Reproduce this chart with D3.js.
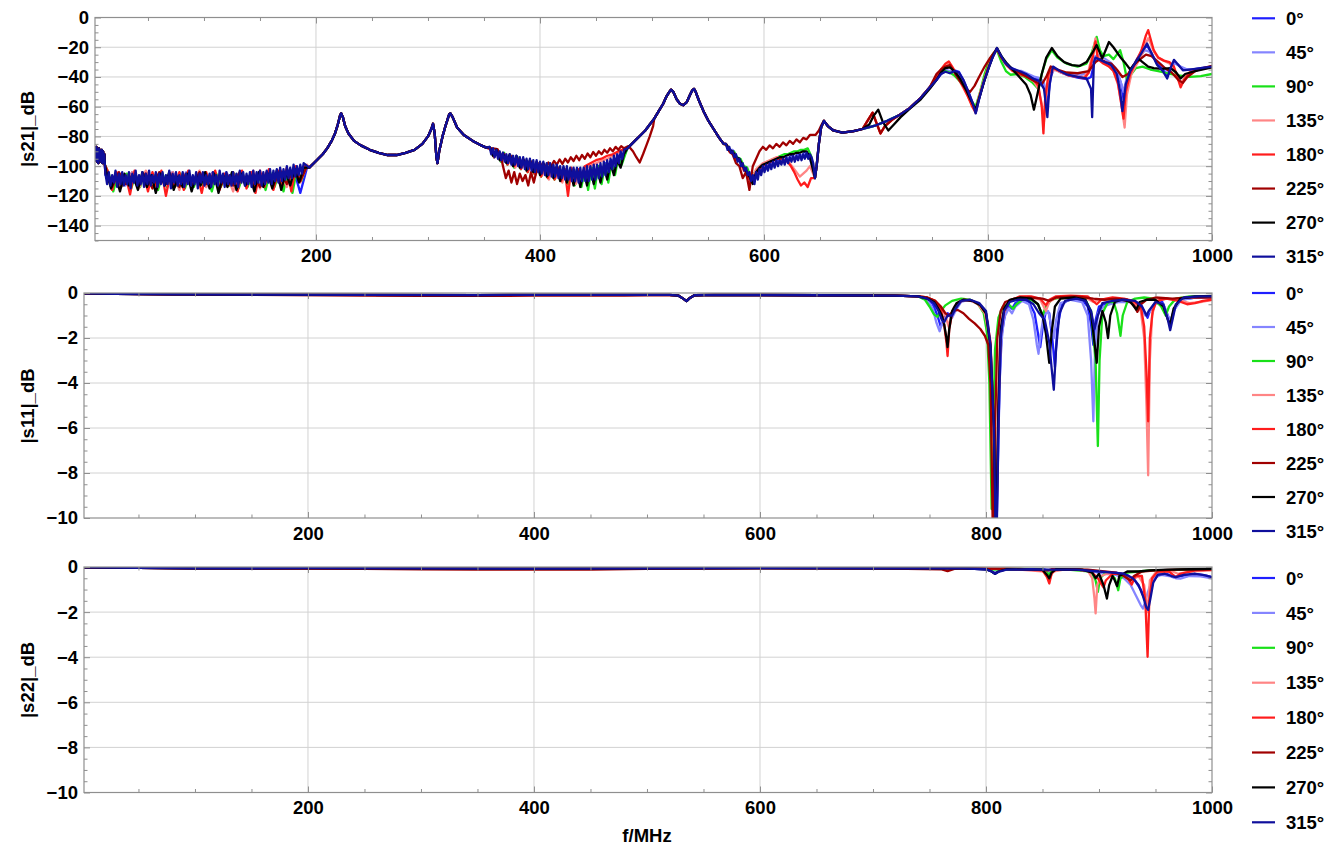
<!DOCTYPE html>
<html><head><meta charset="utf-8">
<script src="https://cdn.jsdelivr.net/npm/d3@7"></script>
<style>
body{margin:0;background:#fff}
svg text{font-family:"Liberation Sans",Arial,sans-serif;font-weight:bold;font-size:18.5px;fill:#000}
</style>
</head><body>
<svg id="c" width="1340" height="848"></svg>
<script>
// ---------------- labels / ticks ----------------
const angles = ["0°","45°","90°","135°","180°","225°","270°","315°"];
const xTicks = [200,400,600,800,1000];
const s21YTicks = [0,-20,-40,-60,-80,-100,-120,-140];
const sYTicks = [0,-2,-4,-6,-8,-10];
const yLabels = ["|s21|_dB","|s11|_dB","|s22|_dB"];
const xLabel = "f/MHz";

// ---------------- |s21| data (f in MHz, dB) ----------------
const s21Lead = [[2.7,-88],[3.3,-96],[3.9,-87],[4.5,-97],[5.1,-89],[5.7,-98],[6.3,-88],[6.9,-96],[7.5,-90],[8.1,-97],[8.7,-89],[9.3,-98],[9.9,-90],[10.5,-97],[11.1,-92],[11.5,-99]];
// noise floor, sampled sweeps
const s21Floor315 = [-105,-112,-104,-113,-106,-111,-103,-114,-105,-112,
  -104,-113,-106,-112,-104,-115,-105,-111,-103,-113,
  -106,-112,-104,-114,-105,-112,-103,-113,-106,-111,
  -104,-114,-105,-112,-104,-113,-106,-112,-103,-115,
  -105,-111,-104,-113,-106,-112,-104,-114,-105,-112,
  -103,-113,-106,-112,-104,-115,-105,-111,-104,-113,
  -106,-112,-105,-114,-104,-112,-106,-113,-103,-111,
  -105,-114,-104,-112,-106,-113,-104,-112,-105,-114,
  -103,-111,-104,-113,-105,-112,-104,-114,-103,-112,
  -104,-111,-103,-113,-104,-112,-103,-111,-102,-112,
  -103,-110,-102,-111,-101,-110,-102,-109,-100,-108,
  -101,-108,-99,-107,-100,-106,-99,-105,-98];
const s21Floor270 = [-104,-115,-106,-117,-105,-113,-107,-116,-104,-114,-106,-118,-105,-113,-104,-116,-107,-114,-105,-117,-106,-113,-104,-115,-105,-118,-106,-114,-104,-116,-105,-113,-106,-117,-104,-114,-105,-115,-103,-116,-104,-113,-102,-111,-101];
const s21Floor180 = [-103,-116,-104,-114,-106,-119,-103,-113,-105,-117,-104,-115,-103,-120,-105,-114,-104,-116,-103,-113,-106,-118,-104,-114,-103,-116,-105,-113,-104,-117,-103,-115,-104,-118,-103,-114,-102,-116,-103,-113,-101,-117,-100,-110,-99];
const s21Floor90 = [-105,-117,-106,-113,-105,-115,-106,-114,-105,-113,-106,-116,-105,-114,-106,-113,-105,-115,-106,-114,-105,-113,-106,-117,-105,-114,-106,-113,-105,-115,-106,-114,-105,-113,-106,-116,-104,-114,-105,-117,-103,-118,-102,-110,-100];
const s21Floor0 = [-106,-111,-105,-112,-104,-113,-106,-111,-105,-112,-104,-114,-105,-112,-106,-111,-104,-113,-105,-112,-104,-111,-106,-113,-105,-112,-103,-113,-102,-118,-101];
const s21Floor45 = [-104,-112,-106,-113,-105,-111,-104,-114,-106,-112,-105,-113,-104,-112,-106,-114,-105,-111,-104,-113,-106,-112,-105,-114,-104,-111,-105,-112,-103,-110,-100];
const s21Floor135 = [-103,-113,-105,-112,-104,-115,-103,-112,-105,-113,-104,-116,-105,-112,-103,-114,-104,-113,-105,-117,-104,-112,-103,-115,-104,-113,-102,-114,-101,-111,-99];
const s21Floor225 = [-105,-114,-104,-112,-106,-113,-105,-115,-104,-112,-106,-114,-105,-113,-104,-112,-106,-115,-105,-113,-104,-112,-105,-114,-104,-113,-103,-112,-102,-110,-100];
// resonances 194-352 MHz (shared)
const s21Rise = [[194,-101],[198,-98],[202,-95],[206,-92],[210,-88],[214,-83],[217,-78],[219.5,-72],[221.5,-66],[222.5,-64.5],[224,-67],[226,-73],[229,-78],[234,-83],[240,-86],[248,-89],[256,-91],[264,-92.5],[272,-92.5],[280,-91],[288,-89],[295,-85],[300,-80],[303,-75],[304.5,-71.5],[306,-78],[307.5,-94],[308.5,-98],[310,-90],[313,-80],[316,-72],[319,-65],[320,-64.5],[322,-67],[326,-74],[332,-79],[340,-83],[346,-85.5],[352,-87.5]];
// noisy valley 355-475 MHz
const s21Mid315 = [-87,-92,-88,-94,-89,-95,-90,-96,-91,-97,
  -92,-98,-92,-99,-93,-99,-93,-100,-94,-101,
  -94,-102,-95,-102,-95,-103,-96,-104,-96,-104,
  -97,-105,-97,-106,-98,-106,-98,-107,-99,-107,
  -99,-108,-100,-108,-100,-109,-100,-109,-101,-110,
  -101,-110,-101,-111,-101,-110,-101,-110,-100,-110,
  -100,-109,-99,-109,-99,-108,-98,-107,-97,-106,
  -96,-104,-95,-102,-93,-100,-92,-98,-90,-95,-89];
const s21Mid0 = [-88,-93,-90,-96,-92,-98,-93,-100,-94,-101,-96,-103,-97,-104,-98,-106,-99,-107,-100,-108,-101,-109,-102,-110,-102,-111,-103,-112,-102,-111,-101,-110,-100,-108,-98,-105,-96,-101,-93,-96];
const s21Mid45 = [-89,-92,-91,-95,-93,-97,-94,-99,-95,-100,-97,-102,-98,-103,-99,-105,-100,-106,-101,-107,-102,-108,-103,-109,-103,-110,-104,-110,-103,-109,-102,-108,-101,-107,-99,-104,-97,-100,-94,-95];
const s21Mid90 = [-88,-94,-90,-97,-91,-99,-93,-101,-94,-102,-96,-104,-97,-105,-98,-107,-99,-108,-100,-109,-101,-110,-102,-112,-102,-113,-103,-114,-102,-116,-101,-115,-100,-112,-99,-111,-97,-106,-94,-99];
const s21Mid270 = [-87,-93,-89,-96,-91,-98,-92,-100,-93,-101,-95,-103,-96,-104,-97,-106,-98,-107,-99,-108,-100,-110,-101,-111,-102,-113,-102,-114,-103,-113,-102,-112,-101,-111,-100,-109,-98,-106,-96,-101,-92];
const s21Mid180 = [-88,-94,-90,-96,-92,-99,-93,-100,-95,-102,-96,-104,-97,-105,-98,-107,-99,-108,-100,-109,-101,-110,-102,-120,-101,-110,-102,-108];
const s21Trace180 = [[440,-100],[445,-98],[450,-96],[455,-95],[460,-93],[465,-92],[470,-90],[475,-88.5]];
const s21Mid135 = [-89,-93,-91,-97,-92,-98,-94,-101,-95,-101,-97,-103,-98,-106,-99,-106,-100,-109,-101,-108,-102,-111,-102,-109,-103,-112,-102,-107];
const s21Trace135 = [[441,-101],[450,-98],[460,-95],[470,-91],[475,-89]];
const s21Head225 = [[355,-88],[358,-88],[362,-88.5],[365,-93]];
const s21Mid225 = [-100,-108,-103,-111,-104,-112,-105,-110,-106,-113,-104,-111,-103];
const s21Trace225 = [[400,-101],[402.5,-98],[405,-101],[407.5,-97.5],[410,-100],[412.5,-96.5],[415,-99],[417.5,-95.5],[420,-98.5],[422.5,-95],[425,-97.5],[427.5,-94],[430,-96.5],[432.5,-93],[435,-96],[437.5,-92.5],[440,-95],[442.5,-91.5],[445,-94],[447.5,-90.5],[450,-93],[452.5,-90],[455,-92],[457.5,-89],[460,-91],[462.5,-88],[465,-90],[467.5,-87],[470,-89],[472.5,-86.5],[475,-88],[479,-86.5],[483,-90],[486,-94],[489,-97.5],[492,-92],[495,-86],[498,-80],[501,-73]];
const s21Climb = [[478,-88],[482,-85],[486,-82],[490,-79],[494,-76],[498,-72]];
// double resonance 502-564 MHz (shared)
const s21Peaks = [[502,-68],[506,-63],[510,-58],[513,-53],[515.5,-50],[517,-48.5],[519,-50],[522,-55],[525,-58],[528,-59],[531,-57],[534,-52],[536,-49],[537.5,-48],[539,-50],[542,-56],[546,-63],[550,-69],[555,-75],[560,-81],[564,-85]];
// noisy valley 566-644 MHz
const s21Low315 = [-85,-89,-87,-91,-90,-94,-92,-97,-95,-100,
  -98,-103,-101,-106,-104,-110,-106,-112,-104,-109,
  -102,-106,-100,-104,-99,-103,-98,-102,-97,-101,
  -96,-100,-96,-99,-95,-99,-94,-98,-94,-97,
  -93,-97,-93,-96,-92,-96,-92,-95,-91,-95,
  -92,-94,-98];
const s21Low0 = [-86,-90,-90,-95,-96,-101,-103,-110,-108,-104,-104,-100,-101,-98,-99,-96,-98,-95,-96,-93,-95,-92,-94,-91,-94,-96];
const s21Low45 = [-85,-89,-89,-94,-95,-100,-102,-108,-111,-105,-103,-101,-100,-99,-98,-97,-97,-95,-95,-94,-94,-93,-93,-92,-92,-95];
const s21Low90 = [-86,-90,-90,-94,-95,-100,-101,-107,-105,-102,-100,-98,-97,-96,-95,-94,-93,-92,-92,-91,-90,-90,-89,-89,-88,-93];
const s21Low270 = [-85,-89,-90,-94,-95,-100,-103,-107,-112,-104,-101,-99,-98,-97,-96,-95,-94,-94,-93,-92,-92,-91,-91,-90,-90,-94];
const s21Low180 = [-86,-91,-91,-96,-97,-103,-104,-111,-109,-103,-101,-99,-98,-97,-96,-95,-95,-96,-97,-100,-104,-109,-113,-111,-114,-108];
const s21Low135 = [-85,-90,-90,-95,-96,-101,-103,-109,-107,-102,-100,-98,-97,-96,-95,-94,-94,-95,-96,-98,-101,-104,-107,-105,-103,-100];
const s21Low225 = [-85,-90,-92,-98,-100,-108,-104,-116,-100,-95,-90,-87,-89,-86,-88,-85,-87,-84,-86,-83,-85,-82,-84,-81,-82,-79];
const s21Jump = [[645.5,-108],[647,-100],[649,-85],[651,-74]];
const s21Jump225 = [[646,-79],[649,-76],[651.5,-72]];
const s21TailA = [[653.5,-69.5],[657,-73],[662,-76],[670,-77.5],[680,-76.5],[688,-75]];
const s21TailB = [[695,-73.5],[700,-72.5],[710,-69.5],[720,-66],[730,-61],[740,-54],[748,-47]];
const s21Tail270 = [[694,-72],[698,-66],[702,-62],[706,-70],[711,-76],[716,-72],[722,-67],[730,-61.5],[740,-55],[748,-48]];
const s21TailRed = [[692,-70],[697,-64],[701,-72],[704,-78],[708,-73],[714,-69],[722,-65],[730,-61],[740,-54],[748,-47]];
// high band 754-1000 MHz
const s21Hf0 = [[754,-42],[758,-38],[762,-36],[766,-37],[770,-35.5],[774,-36.5],[778,-42],[782,-49],[786,-57],[789,-64],[792,-55],[796,-44],[800,-35],[804,-27],[808,-21],[811,-25],[815,-30],[820,-33.5],[824,-35],[828,-36.5],[834,-38.5],[840,-40.5],[846,-42],[850,-46],[853,-58],[856,-40],[859,-34],[865,-37],[872,-39],[880,-40.5],[888,-41.5],[892,-40],[895,-30],[899,-28],[904,-30],[910,-32.5],[915,-36],[919,-45],[921,-55],[924,-42],[928,-35],[933,-28],[938,-22],[942,-19],[946,-24],[951,-31],[956,-35],[960,-39],[963,-35],[966,-30],[970,-32],[975,-35],[982,-35],[990,-34],[1000,-33]];
const s21Hf45 = [[754,-41],[758,-37],[762,-35],[766,-36],[770,-36],[774,-38],[778,-43],[782,-50],[786,-57],[789,-63],[792,-54],[796,-43],[800,-34],[804,-26.5],[808,-21],[811,-25],[815,-31],[820,-34.5],[825,-36],[830,-36],[836,-38],[842,-40],[847,-41],[850,-44],[852,-52],[855,-40],[859,-35],[866,-37],[874,-38],[882,-39],[890,-37],[894,-27],[898,-25],[903,-27],[909,-30],[914,-34],[918,-42],[921,-50],[924,-40],[929,-33],[935,-27],[940,-22],[944,-23],[949,-28],[955,-32],[960,-36],[964,-33],[967,-31],[972,-33],[978,-35],[988,-34.5],[1000,-33.5]];
const s21Hf90 = [[754,-40],[758,-37],[762,-36],[766,-37],[770,-39],[775,-43],[780,-49],[785,-56],[789,-60],[793,-50],[797,-38],[801,-29],[805,-24],[808,-22],[812,-30],[816,-36],[820,-38.5],[826,-38],[833,-40],[840,-44],[845,-48],[848,-38],[852,-28],[857,-22],[862,-27],[870,-31],[880,-33],[888,-31],[893,-23],[897,-13],[900,-22],[903,-26],[908,-25],[912,-28],[915,-25],[918,-22],[921,-30],[925,-45],[928,-38],[932,-34],[938,-33],[945,-35],[952,-36],[960,-37.5],[970,-39],[980,-40],[990,-39.5],[1000,-38]];
const s21Hf135 = [[754,-40],[758,-35.5],[762,-32],[765,-31],[768,-34],[772,-39],[777,-46],[782,-53],[786,-59],[789,-62],[792,-53],[796,-43],[800,-34],[804,-26],[808,-21],[812,-27],[817,-32.5],[822,-36],[828,-38],[835,-40],[841,-43],[845,-48],[848,-58],[850,-70],[852,-52],[855,-39],[859,-35],[865,-37],[873,-39],[880,-40],[886,-40],[890,-35],[894,-22],[896,-14],[898,-26],[903,-30],[908,-33],[912,-36],[916,-45],[919,-58],[922,-74],[924,-52],[928,-38],[933,-31],[938,-24],[941,-17],[943,-14],[945,-17],[948,-23],[952,-27],[957,-29],[962,-31],[966,-34],[969,-39],[972,-45],[975,-41],[980,-37],[988,-35],[1000,-33.5]];
const s21Hf180 = [[754,-40],[758,-35],[762,-31],[765,-29.5],[768,-33],[772,-38],[777,-45],[782,-53],[786,-60],[789,-64],[792,-54],[796,-44],[800,-34],[804,-26],[808,-21],[812,-27],[817,-32],[822,-36],[828,-38],[835,-40],[841,-42],[845,-46],[848,-60],[849.5,-78],[851,-55],[854,-38],[858,-34],[864,-36],[872,-39],[880,-40],[886,-41],[890,-37],[894,-25],[896,-16],[898,-28],[903,-31],[908,-33],[912,-36],[916,-44],[919,-58],[921,-68],[923,-50],[927,-38],[932,-30],[937,-22],[941,-12],[943,-8.5],[945,-14],[948,-22],[952,-27],[957,-29],[962,-30],[966,-33],[969,-40],[972,-47],[975,-42],[980,-37],[988,-35],[1000,-33]];
const s21Hf225 = [[754,-38],[758,-35],[762,-33],[766,-32],[770,-37],[775,-43],[780,-48],[784,-50],[788,-46],[792,-40],[797,-33],[802,-27],[808,-21],[812,-27],[817,-32],[822,-35],[828,-37],[835,-40],[842,-43],[848,-45],[852,-40],[856,-33],[862,-35],[870,-37],[880,-37.5],[890,-36],[896,-30],[900,-28],[905,-30],[910,-31],[915,-35],[920,-40],[925,-38],[930,-32],[936,-28],[941,-25],[946,-26],[952,-30],[958,-34],[964,-37],[970,-42],[974,-44],[978,-40],[985,-36],[992,-34],[1000,-32.5]];
const s21Hf270 = [[754,-42],[758,-37],[762,-34],[766,-33.5],[770,-36],[775,-41],[780,-48],[785,-56],[789,-62],[793,-52],[797,-42],[801,-33],[805,-25],[808,-20.5],[812,-26],[817,-31],[822,-35],[828,-40],[834,-45],[838,-52],[841,-62],[844,-52],[848,-38],[852,-27],[857,-20.5],[862,-26],[868,-30],[875,-32],[882,-32.5],[888,-30],[893,-24],[897,-18.5],[900,-24],[902,-27.5],[905,-22],[908,-16.5],[912,-20],[918,-26.5],[923,-31],[927,-35],[931,-31],[934,-27.5],[938,-30],[943,-33],[948,-34],[955,-34.5],[963,-34],[968,-37],[972,-41],[976,-38],[985,-36],[1000,-33.5]];
const s21Hf315 = [[754,-42],[758,-38],[762,-36.5],[766,-37.5],[770,-36],[774,-37],[778,-42],[782,-49],[786,-57],[789,-64.5],[792,-55],[796,-44],[800,-35],[804,-27],[808,-20.5],[811,-25],[815,-30],[820,-34],[824,-35],[828,-36],[834,-38],[840,-41],[846,-43],[850,-48],[853,-67],[855,-45],[858,-33],[864,-36],[871,-38.5],[880,-40],[888,-41],[892,-48],[893,-67],[894.5,-30],[896,-27],[903,-29.5],[910,-32],[915,-38],[918,-50],[920,-63],[923,-45],[927,-36],[932,-30],[937,-24],[942,-17.5],[946,-24],[951,-32],[956,-36],[960,-41],[963,-34],[966,-28.5],[970,-32],[974,-35.5],[980,-35],[990,-34],[1000,-33]];

// ---------------- |s11| data ----------------
const s11Low = [[1.8,-0.02],[30,-0.04],[80,-0.06],[150,-0.07],[250,-0.08],[350,-0.09],[450,-0.08],[520,-0.08],[528,-0.12],[532,-0.25],[535,-0.36],[538,-0.22],[542,-0.1],[560,-0.08],[650,-0.1],[720,-0.12],[740,-0.15]];
const s11Low225 = [[1.8,-0.02],[80,-0.06],[250,-0.12],[300,-0.13],[400,-0.12],[480,-0.11],[520,-0.09],[528,-0.12],[532,-0.25],[535,-0.35],[538,-0.22],[542,-0.1],[560,-0.08],[650,-0.1],[720,-0.12],[740,-0.15]];
const s11Hf0 = [[748,-0.25],[753,-0.5],[757,-1.0],[760,-1.5],[763,-1.1],[766,-0.9],[769,-1.0],[772,-0.75],[776,-0.4],[782,-0.3],[790,-0.4],[796,-0.6],[800,-1.0],[803,-2.5],[805,-5],[807,-9],[808.5,-12],[810,-9],[812,-4],[814,-1.8],[817,-0.9],[820,-0.55],[823,-0.7],[826,-0.45],[832,-0.3],[838,-0.4],[843,-0.9],[846,-1.8],[848,-2.4],[850,-1.6],[853,-0.8],[856,-0.9],[859,-2.2],[861,-3.3],[863,-1.6],[867,-0.5],[875,-0.25],[885,-0.3],[890,-0.6],[893,-1.4],[895,-2.3],[897,-1.2],[900,-0.6],[905,-0.5],[912,-0.4],[920,-0.3],[930,-0.35],[937,-0.5],[941,-0.9],[943,-1.1],[945,-0.8],[950,-0.4],[956,-0.4],[960,-0.9],[963,-1.3],[966,-0.8],[972,-0.3],[985,-0.2],[1000,-0.17]];
const s11Hf45 = [[748,-0.3],[753,-0.7],[756,-1.3],[759,-1.7],[762,-1.2],[766,-1.0],[770,-1.1],[773,-0.8],[778,-0.4],[785,-0.3],[792,-0.45],[798,-0.7],[802,-1.4],[805,-4],[807,-8],[809,-12],[811,-6],[813,-2.5],[816,-1.1],[820,-0.7],[823,-0.9],[826,-0.6],[832,-0.35],[838,-0.5],[842,-1.2],[845,-2.3],[846.5,-2.7],[848,-2.0],[851,-1.0],[855,-0.8],[858,-1.5],[860,-2.0],[862,-1.2],[866,-0.45],[875,-0.3],[885,-0.4],[890,-1.0],[893,-3.0],[895,-5.7],[896.5,-2.5],[899,-0.9],[904,-0.6],[910,-0.5],[918,-0.4],[928,-0.4],[936,-0.6],[941,-1.0],[945,-0.8],[950,-0.45],[957,-0.5],[961,-1.0],[964,-1.3],[967,-0.7],[973,-0.3],[985,-0.2],[1000,-0.18]];
const s11Hf90 = [[746,-0.3],[750,-0.6],[754,-0.95],[757,-1.06],[760,-0.8],[764,-0.55],[770,-0.35],[778,-0.25],[786,-0.3],[793,-0.5],[798,-0.9],[801,-1.8],[803,-4],[805,-9.6],[806.5,-6],[808,-2.5],[811,-1.1],[815,-0.6],[820,-0.5],[824,-0.7],[827,-0.5],[832,-0.3],[840,-0.3],[846,-0.5],[850,-1.0],[853,-0.6],[858,-0.3],[866,-0.2],[878,-0.2],[888,-0.3],[893,-0.8],[897,-3.0],[899,-6.8],[900.5,-3],[903,-0.9],[908,-0.4],[913,-0.4],[916,-0.9],[919,-1.9],[921,-1.0],[925,-0.4],[932,-0.25],[940,-0.2],[948,-0.25],[955,-0.6],[959,-1.0],[962,-0.6],[968,-0.25],[980,-0.15],[1000,-0.15]];
const s11Hf135 = [[748,-0.2],[755,-0.35],[760,-0.6],[764,-1.0],[767,-1.5],[769,-1.0],[772,-0.6],[777,-0.35],[785,-0.3],[793,-0.5],[799,-0.9],[803,-2],[806,-5],[808,-10.5],[810,-7],[812,-2.5],[815,-1.0],[820,-0.4],[828,-0.2],[838,-0.15],[848,-0.3],[853,-0.8],[856,-0.4],[862,-0.2],[875,-0.15],[888,-0.2],[895,-0.4],[900,-0.3],[910,-0.25],[920,-0.3],[930,-0.4],[937,-0.8],[940,-2],[942,-5],[943.5,-8.1],[945,-3],[947,-1.0],[950,-0.4],[958,-0.25],[970,-0.3],[980,-0.45],[990,-0.4],[1000,-0.3]];
const s11Hf180 = [[748,-0.2],[755,-0.35],[760,-0.7],[763,-1.4],[765,-2.2],[766,-2.8],[767.5,-1.6],[770,-0.9],[774,-0.5],[780,-0.3],[788,-0.35],[795,-0.55],[800,-0.9],[804,-2.2],[807,-6],[809,-11],[811,-5],[813,-1.8],[816,-0.8],[821,-0.35],[830,-0.15],[840,-0.15],[848,-0.25],[853,-0.55],[856,-0.3],[862,-0.15],[875,-0.12],[890,-0.15],[898,-0.5],[902,-0.3],[912,-0.2],[922,-0.25],[930,-0.35],[937,-0.6],[940,-1.5],[942,-3.5],[943.5,-5.7],[945,-2],[947.5,-0.8],[951,-0.35],[960,-0.25],[970,-0.35],[978,-0.5],[985,-0.45],[992,-0.35],[1000,-0.3]];
const s11Hf225 = [[748,-0.2],[755,-0.35],[760,-0.6],[764,-0.9],[767,-1.0],[771,-0.8],[775,-0.75],[780,-0.9],[785,-1.15],[790,-1.35],[795,-1.6],[799,-1.9],[802,-2.3],[804,-4],[806,-10.5],[808,-6],[810,-2],[813,-0.8],[817,-0.4],[825,-0.25],[838,-0.2],[850,-0.25],[856,-0.35],[862,-0.2],[880,-0.15],[895,-0.25],[905,-0.3],[915,-0.25],[925,-0.3],[931,-0.55],[934,-0.84],[937,-0.5],[942,-0.3],[950,-0.2],[965,-0.25],[980,-0.2],[1000,-0.2]];
const s11Hf270 = [[748,-0.25],[754,-0.4],[758,-0.7],[761,-1.0],[763,-1.4],[765,-2.0],[766,-2.4],[767.5,-1.6],[770,-0.8],[774,-0.45],[780,-0.3],[788,-0.35],[795,-0.55],[800,-0.9],[804,-2.4],[807,-6],[809,-11],[811,-5],[813,-1.6],[816,-0.7],[821,-0.3],[830,-0.2],[840,-0.25],[846,-0.5],[850,-1.0],[853,-1.8],[856,-3.1],[858,-1.8],[861,-0.6],[866,-0.25],[878,-0.2],[888,-0.3],[893,-0.9],[896,-2.2],[898,-3.1],[900,-1.5],[903,-0.8],[906,-1.3],[908,-2.0],[910,-1.0],[914,-0.4],[920,-0.3],[928,-0.4],[933,-0.74],[936,-0.4],[942,-0.3],[950,-0.3],[957,-0.6],[961,-1.2],[963,-1.4],[966,-0.7],[972,-0.25],[985,-0.15],[1000,-0.13]];
const s11Hf315 = [[748,-0.25],[754,-0.45],[758,-0.8],[761,-1.2],[763,-1.3],[766,-1.0],[770,-1.0],[773,-0.7],[778,-0.35],[786,-0.3],[794,-0.45],[800,-0.8],[804,-2.3],[807,-6],[809,-12],[811,-6],[813,-2],[816,-0.8],[821,-0.4],[828,-0.3],[836,-0.3],[842,-0.5],[847,-0.9],[852,-1.2],[856,-2.2],[858,-3.3],[860,-4.3],[862,-2.5],[865,-0.9],[870,-0.35],[880,-0.25],[888,-0.35],[893,-0.8],[896,-1.6],[899,-1.0],[903,-0.45],[912,-0.35],[922,-0.3],[932,-0.35],[938,-0.6],[942,-1.0],[944,-0.8],[950,-0.4],[957,-0.5],[961,-1.2],[963,-1.65],[965,-1.2],[968,-0.5],[975,-0.2],[988,-0.15],[1000,-0.15]];

// ---------------- |s22| data ----------------
const s22Low = [[1.8,-0.02],[50,-0.04],[100,-0.06],[200,-0.05],[300,-0.06],[400,-0.07],[500,-0.06],[600,-0.05],[700,-0.06],[780,-0.06]];
const s22Low225 = [[1.8,-0.02],[100,-0.06],[250,-0.08],[300,-0.1],[350,-0.12],[400,-0.12],[450,-0.11],[500,-0.08],[600,-0.05],[700,-0.06],[760,-0.1],[766,-0.18],[772,-0.08],[780,-0.06]];
const s22Hf0 = [[800,-0.1],[805,-0.2],[808,-0.3],[811,-0.2],[818,-0.1],[840,-0.1],[852,-0.12],[856,-0.2],[860,-0.1],[880,-0.12],[895,-0.2],[905,-0.25],[915,-0.25],[925,-0.35],[932,-0.6],[937,-1.0],[941,-1.5],[943,-1.9],[945,-1.3],[948,-0.6],[953,-0.3],[960,-0.3],[966,-0.45],[972,-0.4],[985,-0.3],[995,-0.38],[1000,-0.45]];
const s22Hf45 = [[800,-0.1],[805,-0.18],[808,-0.25],[812,-0.15],[820,-0.1],[852,-0.12],[856,-0.18],[860,-0.1],[880,-0.12],[895,-0.2],[905,-0.3],[915,-0.35],[922,-0.5],[928,-0.8],[933,-1.3],[937,-1.7],[939,-1.84],[941,-1.5],[944,-1.0],[948,-0.5],[955,-0.35],[962,-0.4],[968,-0.5],[972,-0.52],[980,-0.4],[990,-0.42],[1000,-0.5]];
const s22Hf90 = [[800,-0.08],[808,-0.12],[815,-0.08],[850,-0.1],[854,-0.25],[856,-0.35],[858,-0.15],[870,-0.1],[893,-0.2],[897,-0.6],[899,-1.1],[901,-0.5],[905,-0.3],[910,-0.3],[914,-0.5],[917,-1.03],[919,-0.5],[925,-0.25],[935,-0.2],[945,-0.15],[960,-0.15],[975,-0.12],[1000,-0.12]];
const s22Hf135 = [[800,-0.08],[820,-0.08],[852,-0.2],[856,-0.6],[859,-0.2],[870,-0.1],[890,-0.15],[894,-0.5],[896,-1.4],[897,-2.06],[898.5,-0.8],[902,-0.4],[907,-0.3],[915,-0.3],[925,-0.4],[930,-0.55],[935,-0.4],[940,-0.8],[943,-2.0],[945,-0.6],[950,-0.25],[965,-0.2],[970,-0.3],[980,-0.2],[1000,-0.15]];
const s22Hf180 = [[800,-0.08],[820,-0.08],[850,-0.15],[854,-0.45],[856,-0.73],[858,-0.3],[862,-0.1],[880,-0.1],[893,-0.2],[899,-0.5],[902,-0.75],[904,-0.9],[906,-0.6],[912,-0.3],[920,-0.3],[926,-0.55],[929,-0.78],[932,-0.4],[938,-0.4],[941,-1.5],[943,-3.98],[944.5,-1.5],[947,-0.5],[952,-0.2],[962,-0.2],[968,-0.45],[972,-0.3],[985,-0.15],[1000,-0.12]];
const s22Hf225 = [[800,-0.07],[830,-0.08],[855,-0.15],[858,-0.1],[890,-0.12],[905,-0.2],[915,-0.25],[922,-0.4],[928,-0.6],[931,-0.4],[938,-0.2],[950,-0.15],[970,-0.12],[1000,-0.1]];
const s22Hf270 = [[800,-0.1],[805,-0.2],[808,-0.3],[811,-0.2],[818,-0.1],[850,-0.12],[854,-0.35],[856,-0.5],[858,-0.25],[862,-0.1],[885,-0.12],[894,-0.25],[897,-0.5],[900,-0.3],[904,-0.8],[907,-1.4],[909,-0.8],[912,-0.4],[914,-0.6],[916,-0.85],[918,-0.4],[925,-0.2],[935,-0.2],[945,-0.15],[960,-0.12],[980,-0.1],[1000,-0.08]];
const s22Hf315 = [[800,-0.1],[805,-0.2],[808,-0.3],[811,-0.22],[818,-0.12],[840,-0.1],[856,-0.12],[880,-0.12],[900,-0.2],[912,-0.25],[922,-0.3],[930,-0.5],[935,-0.8],[939,-1.3],[942,-1.8],[943.5,-1.9],[945.5,-1.4],[948,-0.7],[952,-0.35],[958,-0.3],[964,-0.4],[968,-0.45],[975,-0.35],[985,-0.3],[992,-0.35],[1000,-0.45]];

// ---------------- assemble series ----------------
const sweep = (f0, df, vals) => vals.map((v, i) => [f0 + i * df, v]);
const s21Series = [
  [...s21Lead, ...sweep(12,6,s21Floor0), ...s21Rise, ...sweep(356,3,s21Mid0), ...s21Climb, ...s21Peaks, ...sweep(567,3,s21Low0), ...s21Jump, ...s21TailA, ...s21TailB, ...s21Hf0],
  [...s21Lead, ...sweep(12,6,s21Floor45), ...s21Rise, ...sweep(357,3,s21Mid45), ...s21Climb, ...s21Peaks, ...sweep(566,3,s21Low45), ...s21Jump, ...s21TailA, ...s21TailB, ...s21Hf45],
  [...s21Lead, ...sweep(15,4,s21Floor90), ...s21Rise, ...sweep(356,3,s21Mid90), ...s21Climb, ...s21Peaks, ...sweep(567,3,s21Low90), ...s21Jump, ...s21TailA, ...s21TailB, ...s21Hf90],
  [...s21Lead, ...sweep(12,6,s21Floor135), ...s21Rise, ...sweep(357,3,s21Mid135), ...s21Trace135, ...s21Climb, ...s21Peaks, ...sweep(566,3,s21Low135), ...s21Jump, ...s21TailA, ...s21TailRed, ...s21Hf135],
  [...s21Lead, ...sweep(14,4,s21Floor180), ...s21Rise, ...sweep(356,3,s21Mid180), ...s21Trace180, ...s21Climb, ...s21Peaks, ...sweep(567,3,s21Low180), ...s21Jump, ...s21TailA, ...s21TailRed, ...s21Hf180],
  [...s21Lead, ...sweep(12,6,s21Floor225), ...s21Rise, ...s21Head225, ...sweep(367,2.5,s21Mid225), ...s21Trace225, ...s21Peaks, ...sweep(566,3,s21Low225), ...s21Jump225, ...s21TailA, ...s21TailRed, ...s21Hf225],
  [...s21Lead, ...sweep(13,4,s21Floor270), ...s21Rise, ...sweep(355,3,s21Mid270), ...s21Climb, ...s21Peaks, ...sweep(566,3,s21Low270), ...s21Jump, ...s21TailA, ...s21Tail270, ...s21Hf270],
  [...s21Lead, ...sweep(12,1.5,s21Floor315), ...s21Rise, ...sweep(355,1.5,s21Mid315), ...s21Climb, ...s21Peaks, ...sweep(566,1.5,s21Low315), ...s21Jump, ...s21TailA, ...s21TailB, ...s21Hf315]
];
const s11Series = [
  [...s11Low, ...s11Hf0], [...s11Low, ...s11Hf45], [...s11Low, ...s11Hf90], [...s11Low, ...s11Hf135],
  [...s11Low, ...s11Hf180], [...s11Low225, ...s11Hf225], [...s11Low, ...s11Hf270], [...s11Low, ...s11Hf315]
];
const s22Series = [
  [...s22Low, ...s22Hf0], [...s22Low, ...s22Hf45], [...s22Low, ...s22Hf90], [...s22Low, ...s22Hf135],
  [...s22Low, ...s22Hf180], [...s22Low225, ...s22Hf225], [...s22Low, ...s22Hf270], [...s22Low, ...s22Hf315]
];

// ---------------- styles ----------------
const colors = ["#1f1fff","#8585ff","#19e019","#ff8585","#ff1c1c","#a00000","#000000","#0f0f9c"];
const frameColor = "#8f8f8f", gridColor = "#d2d2d2";

const panels = [
  {key:"s21", label:yLabels[0], left:95, right:1212, top:17.5, bottom:240.5, xdom:[2.7,1000], ydom:[-150,0], yTicks:s21YTicks, yMinor:5, series:s21Series, labelY:129, legY0:18.3, legStep:34.05},
  {key:"s11", label:yLabels[1], left:84, right:1212, top:293, bottom:518, xdom:[1.8,1000], ydom:[-10,0], yTicks:sYTicks, yMinor:0.5, series:s11Series, labelY:406, legY0:293, legStep:34},
  {key:"s22", label:yLabels[2], left:84, right:1212, top:567, bottom:792.5, xdom:[1.8,1000], ydom:[-10,0], yTicks:sYTicks, yMinor:0.5, series:s22Series, labelY:680, legY0:578, legStep:34.9}
];

const svg = d3.select("#c");
const defs = svg.append("defs");

function styleAxis(sel){
  sel.select(".domain").remove();
  sel.selectAll(".tick line").attr("stroke", frameColor);
  sel.attr("font-size", null).attr("font-family", null);
  sel.selectAll("text").attr("fill","#000");
}

panels.forEach(p => {
  const x = d3.scaleLinear().domain(p.xdom).range([p.left, p.right]);
  const y = d3.scaleLinear().domain(p.ydom).range([p.bottom, p.top]);
  const g = svg.append("g");

  // grid
  g.append("g").selectAll("line").data(xTicks.filter(t => t < p.xdom[1])).join("line")
    .attr("x1", d => x(d)).attr("x2", d => x(d)).attr("y1", p.top).attr("y2", p.bottom)
    .attr("stroke", gridColor).attr("stroke-width", 1);
  g.append("g").selectAll("line").data(p.yTicks.filter(t => t > p.ydom[0] && t < p.ydom[1])).join("line")
    .attr("x1", p.left).attr("x2", p.right).attr("y1", d => y(d)).attr("y2", d => y(d))
    .attr("stroke", gridColor).attr("stroke-width", 1);

  // curves
  defs.append("clipPath").attr("id", "clip-" + p.key).append("rect")
    .attr("x", p.left).attr("y", p.top).attr("width", p.right - p.left).attr("height", p.bottom - p.top);
  const line = d3.line().x(d => x(d[0])).y(d => y(d[1]));
  g.append("g").attr("clip-path", `url(#clip-${p.key})`)
    .selectAll("path").data(p.series).join("path")
    .attr("d", d => line(d)).attr("fill", "none")
    .attr("stroke", (d, i) => colors[i]).attr("stroke-width", 2.3)
    .attr("stroke-linejoin", "round");

  // frame
  g.append("rect").attr("x", p.left).attr("y", p.top).attr("width", p.right - p.left).attr("height", p.bottom - p.top)
    .attr("fill", "none").attr("stroke", frameColor).attr("stroke-width", 1.2);

  // ticks
  const fmt = d3.format("d");
  const yMinorVals = d3.range(p.ydom[0], p.ydom[1] + 1e-9, p.yMinor).filter(v => !p.yTicks.some(t => Math.abs(t - v) < 1e-9));
  const xMinorVals = d3.range(50, 1000, 50).filter(v => v % 200 !== 0);

  const aL = g.append("g").attr("transform", `translate(${p.left},0)`)
    .call(d3.axisLeft(y).tickValues(p.yTicks).tickSize(-6).tickPadding(6).tickFormat(fmt));
  styleAxis(aL);
  const aLm = g.append("g").attr("transform", `translate(${p.left},0)`)
    .call(d3.axisLeft(y).tickValues(yMinorVals).tickSize(-3.5).tickFormat(""));
  styleAxis(aLm);
  const aR = g.append("g").attr("transform", `translate(${p.right},0)`)
    .call(d3.axisRight(y).tickValues(p.yTicks).tickSize(-6).tickFormat(""));
  styleAxis(aR);
  const aRm = g.append("g").attr("transform", `translate(${p.right},0)`)
    .call(d3.axisRight(y).tickValues(yMinorVals).tickSize(-3.5).tickFormat(""));
  styleAxis(aRm);
  const aB = g.append("g").attr("transform", `translate(0,${p.bottom})`)
    .call(d3.axisBottom(x).tickValues(xTicks).tickSize(-6).tickPadding(8.4).tickFormat(fmt));
  styleAxis(aB);
  const aBm = g.append("g").attr("transform", `translate(0,${p.bottom})`)
    .call(d3.axisBottom(x).tickValues(xMinorVals).tickSize(-3.5).tickFormat(""));
  styleAxis(aBm);
  const aT = g.append("g").attr("transform", `translate(0,${p.top})`)
    .call(d3.axisTop(x).tickValues(xTicks.filter(t => t < 1000)).tickSize(-6).tickFormat(""));
  styleAxis(aT);
  const aTm = g.append("g").attr("transform", `translate(0,${p.top})`)
    .call(d3.axisTop(x).tickValues(xMinorVals).tickSize(-3.5).tickFormat(""));
  styleAxis(aTm);

  // y label
  g.append("text").attr("transform", `translate(34,${p.labelY}) rotate(-90)`)
    .attr("text-anchor", "middle").text(p.label);

  // legend
  const leg = g.append("g").selectAll("g").data(angles).join("g")
    .attr("transform", (d, i) => `translate(0,${p.legY0 + i * p.legStep})`);
  leg.append("line").attr("x1", 1252).attr("x2", 1275).attr("y1", 0).attr("y2", 0)
    .attr("stroke", (d, i) => colors[i]).attr("stroke-width", 2.2);
  leg.append("text").attr("x", 1286).attr("dy", "0.36em").text(d => d);
});

svg.append("text").attr("x", 647).attr("y", 842).attr("text-anchor", "middle").text(xLabel);
</script>
</body></html>
